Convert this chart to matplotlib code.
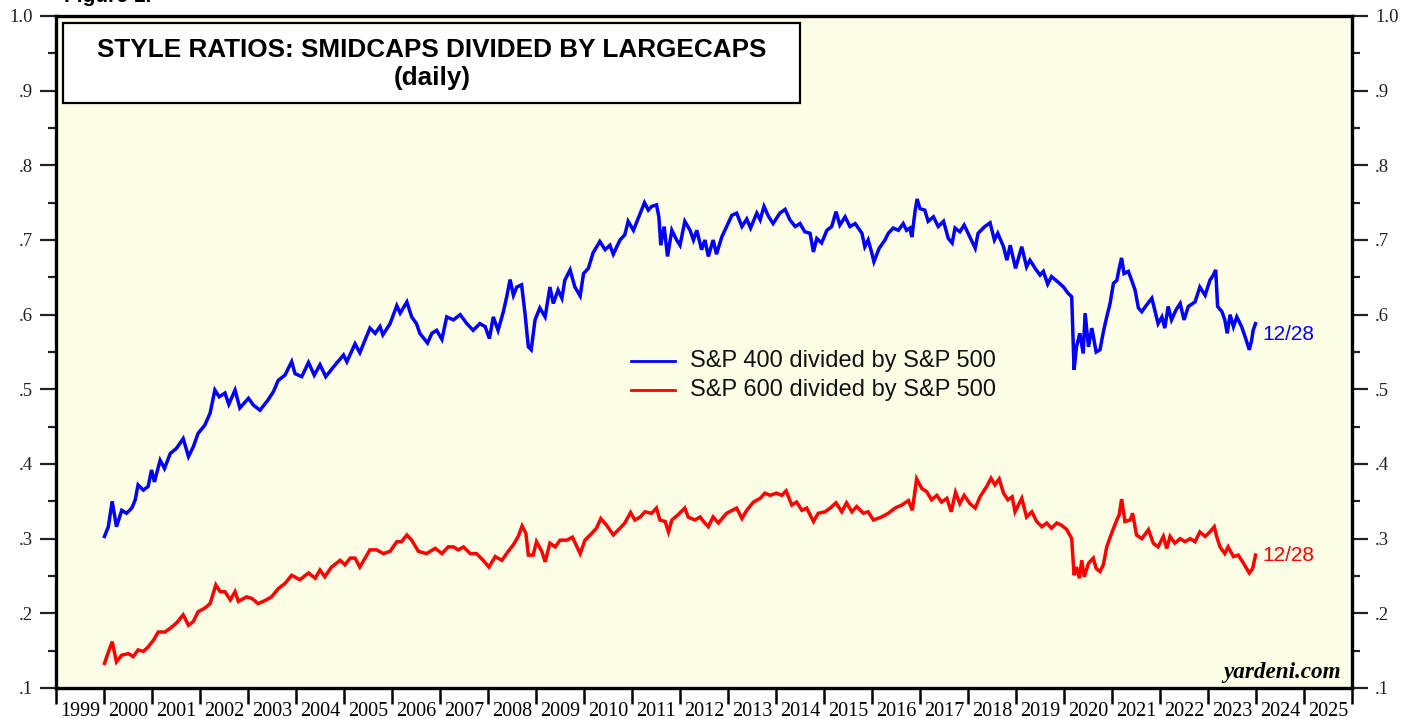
import matplotlib
matplotlib.use("Agg")
import matplotlib.pyplot as plt
from matplotlib.patches import Rectangle
from matplotlib.ticker import MultipleLocator, FixedLocator, NullFormatter, FixedFormatter

# ---------------- data (decimal years, ratio) ----------------
sp400_years = [
    2000.01, 2000.09, 2000.17, 2000.26, 2000.37, 2000.47, 2000.58, 2000.65, 2000.71, 2000.82,
    2000.92, 2000.99, 2001.05, 2001.17, 2001.26, 2001.38, 2001.51, 2001.65, 2001.76, 2001.86,
    2001.96, 2002.10, 2002.21, 2002.31, 2002.40, 2002.52, 2002.60, 2002.73, 2002.83, 2003.01,
    2003.11, 2003.25, 2003.42, 2003.53, 2003.63, 2003.77, 2003.91, 2003.98, 2004.12, 2004.26,
    2004.38, 2004.50, 2004.62, 2004.78, 2004.99, 2005.06, 2005.23, 2005.33, 2005.54, 2005.65,
    2005.75, 2005.81, 2005.96, 2006.10, 2006.17, 2006.31, 2006.41, 2006.51, 2006.58, 2006.74,
    2006.83, 2006.93, 2007.04, 2007.14, 2007.28, 2007.42, 2007.56, 2007.69, 2007.83, 2007.94,
    2008.03, 2008.11, 2008.21, 2008.32, 2008.39, 2008.46, 2008.53, 2008.60, 2008.70, 2008.77,
    2008.84, 2008.90, 2008.98, 2009.08, 2009.19, 2009.29, 2009.36, 2009.46, 2009.54, 2009.60,
    2009.71, 2009.81, 2009.92, 2009.99, 2010.09, 2010.19, 2010.33, 2010.44, 2010.54, 2010.61,
    2010.75, 2010.85, 2010.92, 2011.03, 2011.13, 2011.26, 2011.34, 2011.41, 2011.51, 2011.56,
    2011.60, 2011.67, 2011.74, 2011.83, 2011.93, 2012.00, 2012.10, 2012.21, 2012.28, 2012.35,
    2012.45, 2012.52, 2012.59, 2012.69, 2012.76, 2012.87, 2013.08, 2013.18, 2013.29, 2013.39,
    2013.47, 2013.60, 2013.67, 2013.75, 2013.84, 2013.94, 2014.08, 2014.19, 2014.29, 2014.40,
    2014.50, 2014.60, 2014.71, 2014.78, 2014.85, 2014.95, 2015.06, 2015.16, 2015.25, 2015.33,
    2015.44, 2015.54, 2015.65, 2015.79, 2015.85, 2015.92, 2015.99, 2016.04, 2016.15, 2016.27,
    2016.34, 2016.44, 2016.55, 2016.65, 2016.72, 2016.79, 2016.83, 2016.90, 2016.94, 2017.00,
    2017.10, 2017.17, 2017.28, 2017.38, 2017.49, 2017.59, 2017.67, 2017.73, 2017.83, 2017.92,
    2018.04, 2018.15, 2018.21, 2018.35, 2018.46, 2018.55, 2018.62, 2018.74, 2018.81, 2018.88,
    2018.99, 2019.12, 2019.22, 2019.29, 2019.40, 2019.50, 2019.57, 2019.66, 2019.74, 2019.87,
    2019.99, 2020.08, 2020.16, 2020.21, 2020.26, 2020.33, 2020.40, 2020.44, 2020.51, 2020.58,
    2020.67, 2020.75, 2020.82, 2020.89, 2020.96, 2021.03, 2021.10, 2021.15, 2021.20, 2021.25,
    2021.34, 2021.41, 2021.48, 2021.55, 2021.62, 2021.72, 2021.83, 2021.90, 2021.96, 2022.04,
    2022.10, 2022.17, 2022.24, 2022.33, 2022.42, 2022.50, 2022.59, 2022.73, 2022.83, 2022.94,
    2023.04, 2023.11, 2023.16, 2023.20, 2023.29, 2023.35, 2023.40, 2023.46, 2023.53, 2023.60,
    2023.70, 2023.77, 2023.86, 2023.91, 2023.94, 2023.99,
]
sp400_ratio = [
    0.303, 0.316, 0.350, 0.316, 0.338, 0.334, 0.341, 0.352, 0.372, 0.365,
    0.370, 0.392, 0.376, 0.405, 0.394, 0.414, 0.421, 0.434, 0.410, 0.423,
    0.441, 0.452, 0.468, 0.499, 0.490, 0.495, 0.480, 0.499, 0.475, 0.488,
    0.479, 0.472, 0.486, 0.497, 0.512, 0.519, 0.537, 0.521, 0.517, 0.536,
    0.519, 0.533, 0.517, 0.530, 0.546, 0.537, 0.561, 0.549, 0.582, 0.575,
    0.584, 0.573, 0.588, 0.612, 0.602, 0.617, 0.597, 0.588, 0.575, 0.562,
    0.575, 0.579, 0.567, 0.597, 0.593, 0.600, 0.588, 0.579, 0.588, 0.584,
    0.568, 0.597, 0.579, 0.604, 0.624, 0.647, 0.626, 0.637, 0.640, 0.602,
    0.557, 0.553, 0.593, 0.609, 0.597, 0.637, 0.615, 0.633, 0.622, 0.646,
    0.660, 0.637, 0.625, 0.655, 0.662, 0.683, 0.698, 0.687, 0.693, 0.681,
    0.700, 0.707, 0.725, 0.713, 0.729, 0.750, 0.740, 0.745, 0.747, 0.731,
    0.693, 0.718, 0.678, 0.713, 0.700, 0.693, 0.725, 0.713, 0.700, 0.713,
    0.687, 0.700, 0.678, 0.700, 0.681, 0.704, 0.733, 0.736, 0.718, 0.728,
    0.716, 0.736, 0.727, 0.745, 0.732, 0.722, 0.736, 0.741, 0.727, 0.718,
    0.722, 0.711, 0.709, 0.684, 0.702, 0.696, 0.713, 0.718, 0.738, 0.720,
    0.731, 0.718, 0.722, 0.709, 0.691, 0.700, 0.684, 0.671, 0.689, 0.700,
    0.709, 0.716, 0.713, 0.722, 0.713, 0.716, 0.704, 0.740, 0.755, 0.742,
    0.740, 0.725, 0.731, 0.718, 0.725, 0.702, 0.696, 0.716, 0.711, 0.720,
    0.704, 0.689, 0.709, 0.718, 0.723, 0.700, 0.709, 0.691, 0.673, 0.693,
    0.662, 0.691, 0.664, 0.673, 0.662, 0.653, 0.658, 0.641, 0.651, 0.644,
    0.637, 0.629, 0.624, 0.526, 0.557, 0.575, 0.548, 0.602, 0.557, 0.582,
    0.550, 0.553, 0.577, 0.597, 0.615, 0.642, 0.646, 0.662, 0.676, 0.655,
    0.658, 0.646, 0.633, 0.609, 0.604, 0.613, 0.622, 0.604, 0.588, 0.597,
    0.582, 0.611, 0.593, 0.606, 0.615, 0.593, 0.611, 0.617, 0.637, 0.626,
    0.646, 0.653, 0.660, 0.611, 0.604, 0.593, 0.575, 0.600, 0.584, 0.597,
    0.584, 0.571, 0.553, 0.566, 0.579, 0.588,
]

sp600_years = [
    2000.01, 2000.08, 2000.17, 2000.26, 2000.37, 2000.51, 2000.61, 2000.71, 2000.82, 2000.92,
    2001.03, 2001.13, 2001.27, 2001.38, 2001.51, 2001.65, 2001.76, 2001.86, 2001.96, 2002.10,
    2002.21, 2002.33, 2002.42, 2002.52, 2002.63, 2002.73, 2002.80, 2002.97, 2003.08, 2003.21,
    2003.35, 2003.49, 2003.63, 2003.77, 2003.91, 2004.08, 2004.26, 2004.40, 2004.50, 2004.60,
    2004.74, 2004.92, 2005.02, 2005.13, 2005.23, 2005.33, 2005.54, 2005.68, 2005.82, 2005.96,
    2006.10, 2006.20, 2006.31, 2006.41, 2006.55, 2006.72, 2006.90, 2007.04, 2007.17, 2007.28,
    2007.38, 2007.49, 2007.63, 2007.76, 2007.90, 2008.02, 2008.15, 2008.29, 2008.42, 2008.53,
    2008.63, 2008.71, 2008.79, 2008.84, 2008.94, 2009.01, 2009.12, 2009.19, 2009.29, 2009.40,
    2009.50, 2009.64, 2009.76, 2009.92, 2010.02, 2010.16, 2010.26, 2010.35, 2010.47, 2010.61,
    2010.75, 2010.85, 2010.97, 2011.06, 2011.17, 2011.27, 2011.41, 2011.51, 2011.58, 2011.69,
    2011.76, 2011.83, 2011.96, 2012.10, 2012.17, 2012.31, 2012.42, 2012.49, 2012.59, 2012.69,
    2012.80, 2012.97, 2013.18, 2013.29, 2013.39, 2013.53, 2013.67, 2013.77, 2013.88, 2014.01,
    2014.12, 2014.21, 2014.33, 2014.43, 2014.54, 2014.64, 2014.78, 2014.88, 2015.02, 2015.13,
    2015.25, 2015.37, 2015.47, 2015.58, 2015.68, 2015.82, 2015.92, 2016.03, 2016.20, 2016.34,
    2016.48, 2016.62, 2016.76, 2016.84, 2016.93, 2017.04, 2017.14, 2017.24, 2017.35, 2017.45,
    2017.56, 2017.65, 2017.74, 2017.83, 2017.92, 2018.04, 2018.15, 2018.25, 2018.39, 2018.48,
    2018.56, 2018.65, 2018.74, 2018.83, 2018.92, 2018.98, 2019.12, 2019.22, 2019.33, 2019.43,
    2019.54, 2019.64, 2019.74, 2019.85, 2019.95, 2020.06, 2020.16, 2020.21, 2020.26, 2020.32,
    2020.37, 2020.42, 2020.51, 2020.61, 2020.67, 2020.75, 2020.82, 2020.89, 2020.99, 2021.10,
    2021.15, 2021.20, 2021.27, 2021.38, 2021.43, 2021.51, 2021.62, 2021.76, 2021.86, 2021.96,
    2022.07, 2022.14, 2022.21, 2022.31, 2022.42, 2022.52, 2022.63, 2022.73, 2022.83, 2022.94,
    2023.04, 2023.13, 2023.18, 2023.25, 2023.35, 2023.42, 2023.53, 2023.63, 2023.74, 2023.86,
    2023.93, 2023.99,
]
sp600_ratio = [
    0.133, 0.146, 0.162, 0.135, 0.144, 0.146, 0.142, 0.151, 0.149, 0.155,
    0.164, 0.175, 0.175, 0.180, 0.187, 0.198, 0.184, 0.189, 0.202, 0.207,
    0.213, 0.238, 0.229, 0.229, 0.218, 0.229, 0.216, 0.222, 0.220, 0.213,
    0.217, 0.222, 0.233, 0.240, 0.251, 0.245, 0.254, 0.247, 0.258, 0.249,
    0.262, 0.271, 0.265, 0.274, 0.274, 0.262, 0.285, 0.285, 0.280, 0.283,
    0.296, 0.296, 0.305, 0.298, 0.283, 0.280, 0.287, 0.280, 0.289, 0.289,
    0.285, 0.289, 0.280, 0.280, 0.271, 0.262, 0.276, 0.271, 0.283, 0.292,
    0.303, 0.317, 0.307, 0.278, 0.278, 0.296, 0.283, 0.269, 0.294, 0.289,
    0.298, 0.298, 0.302, 0.280, 0.298, 0.307, 0.314, 0.327, 0.318, 0.305,
    0.314, 0.321, 0.335, 0.325, 0.329, 0.336, 0.334, 0.341, 0.325, 0.323,
    0.309, 0.325, 0.332, 0.341, 0.329, 0.325, 0.329, 0.323, 0.316, 0.329,
    0.321, 0.334, 0.341, 0.327, 0.338, 0.349, 0.354, 0.361, 0.358, 0.361,
    0.358, 0.364, 0.345, 0.349, 0.338, 0.341, 0.323, 0.334, 0.336, 0.341,
    0.348, 0.336, 0.348, 0.336, 0.343, 0.334, 0.336, 0.325, 0.329, 0.334,
    0.341, 0.345, 0.351, 0.338, 0.380, 0.367, 0.363, 0.352, 0.358, 0.349,
    0.354, 0.336, 0.362, 0.347, 0.358, 0.347, 0.341, 0.356, 0.370, 0.381,
    0.372, 0.380, 0.361, 0.352, 0.356, 0.336, 0.354, 0.329, 0.336, 0.323,
    0.316, 0.321, 0.314, 0.321, 0.318, 0.312, 0.300, 0.251, 0.262, 0.247,
    0.271, 0.249, 0.267, 0.274, 0.260, 0.256, 0.265, 0.289, 0.307, 0.325,
    0.332, 0.353, 0.323, 0.325, 0.334, 0.305, 0.300, 0.312, 0.294, 0.289,
    0.303, 0.287, 0.303, 0.294, 0.300, 0.296, 0.300, 0.296, 0.309, 0.303,
    0.309, 0.316, 0.303, 0.289, 0.280, 0.289, 0.276, 0.278, 0.267, 0.254,
    0.260, 0.278,
]

series_labels = ["S&P 400 divided by S&P 500", "S&P 600 divided by S&P 500"]
series_colors = ["#0000ff", "#ff0000"]
end_label = "12/28"
year_ticks = list(range(1999, 2027))
year_labels = [str(y) for y in range(1999, 2026)]
y_ticks = [0.1, 0.2, 0.3, 0.4, 0.5, 0.6, 0.7, 0.8, 0.9, 1.0]
y_tick_labels = [".1", ".2", ".3", ".4", ".5", ".6", ".7", ".8", ".9", "1.0"]

# ---------------- figure ----------------
W, H = 1417, 719
fig = plt.figure(figsize=(W / 100, H / 100), dpi=100)
ax = fig.add_axes([56 / W, 1 - 688 / H, 1296 / W, 672 / H])
ax.set_facecolor("#fefee6")

ax.plot(sp400_years, sp400_ratio, color=series_colors[0], lw=2.5, solid_joinstyle="miter")
ax.plot(sp600_years, sp600_ratio, color=series_colors[1], lw=2.5, solid_joinstyle="miter")

ax.set_xlim(year_ticks[0], year_ticks[-1])
ax.set_ylim(0.1, 1.0)

for s in ax.spines.values():
    s.set_linewidth(2.4)
    s.set_color("black")

serif = "Liberation Serif"
sans = "Liberation Sans"

# y axis (both sides)
ax.yaxis.set_major_locator(FixedLocator(y_ticks))
ax.yaxis.set_major_formatter(FixedFormatter(y_tick_labels))
ax.yaxis.set_minor_locator(MultipleLocator(0.05))
ax.tick_params(axis="y", which="major", direction="out", length=11.5, width=1.6,
               pad=5, labelsize=13.5, left=True, right=True, labelleft=True, labelright=True,
               colors="#222222")
ax.tick_params(axis="y", which="minor", direction="out", length=5.8, width=1.6,
               left=True, right=True, color="#222222")
for lab in ax.get_yticklabels():
    lab.set_fontfamily(serif)

# x axis: ticks at year boundaries, labels centred in each year
ax.xaxis.set_major_locator(FixedLocator(year_ticks))
ax.xaxis.set_major_formatter(NullFormatter())
ax.xaxis.set_minor_locator(FixedLocator([y + 0.5 for y in range(1999, 2026)]))
ax.xaxis.set_minor_formatter(FixedFormatter(year_labels))
ax.tick_params(axis="x", which="major", direction="out", length=11.5, width=1.8, color="black")
ax.tick_params(axis="x", which="minor", length=0, pad=10, labelsize=14.5)
for lab in ax.get_xticklabels(minor=True):
    lab.set_fontfamily(serif)

# title box
ax.add_patch(Rectangle((7 / 1296, (688 - 103) / 672), 737 / 1296, 80 / 672,
                       transform=ax.transAxes, facecolor="white", edgecolor="black",
                       lw=1.6, zorder=5))
ax.text(0.290, 0.949, "STYLE RATIOS: SMIDCAPS DIVIDED BY LARGECAPS", transform=ax.transAxes,
        ha="center", va="center", fontsize=18.8, fontweight="bold", family=sans, zorder=6)
ax.text(0.290, 0.9077, "(daily)", transform=ax.transAxes,
        ha="center", va="center", fontsize=18.8, fontweight="bold", family=sans, zorder=6)

# legend (manual)
leg_y = [0.4866, 0.4435]
for lbl, col, yy in zip(series_labels, series_colors, leg_y):
    ax.plot([0.4437, 0.478], [yy, yy], color=col, lw=2.0, transform=ax.transAxes)
    ax.text(0.489, yy, lbl, transform=ax.transAxes, ha="left", va="center",
            fontsize=17, family=sans, color="#111111")

# end labels
ax.text(sp400_years[-1] + 0.15, sp400_ratio[-1] - 0.014, end_label, color=series_colors[0],
        ha="left", va="center", fontsize=15, family=sans)
ax.text(sp600_years[-1] + 0.15, sp600_ratio[-1], end_label, color=series_colors[1],
        ha="left", va="center", fontsize=15, family=sans)

# source
ax.text(0.9915, 0.015, "yardeni.com", transform=ax.transAxes, ha="right", va="baseline",
        fontsize=16.7, fontweight="bold", style="italic", family=serif)

# clipped figure caption at the top (partly cut off, as in the original)
fig.text(64 / W, 1 - 2 / H, "Figure 1.", ha="left", va="baseline", fontsize=15,
         fontweight="bold", family=sans)

fig.savefig("out.png", dpi=100, facecolor="white")
